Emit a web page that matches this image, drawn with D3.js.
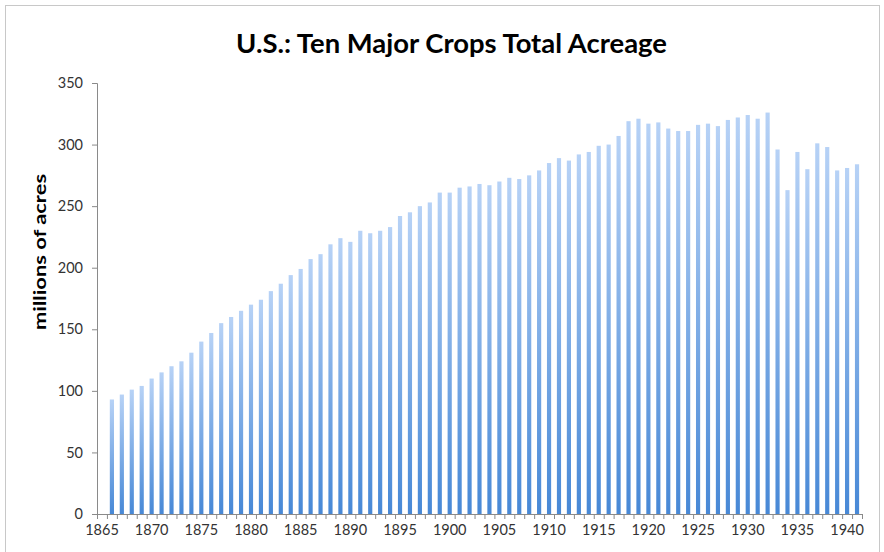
<!DOCTYPE html>
<html>
<head>
<meta charset="utf-8">
<script src="https://cdn.jsdelivr.net/npm/d3@7"></script>
<style>
  html, body { margin: 0; padding: 0; background: #fff; }
  #chart { width: 884px; height: 552px; }
</style>
</head>
<body>
<div id="chart"></div>
<script>
// categories: 1865 has no bar, data runs 1866-1941
const years = d3.range(1865, 1942);
const dataYears = d3.range(1866, 1942);
const acreage = [
  93, 97, 101, 104, 110, 115, 120, 124, 131, 140,
  147, 155, 160, 165, 170, 174, 181, 187, 194, 199,
  207, 211, 219, 224, 221, 230, 228, 230, 233, 242,
  245, 250, 253, 261, 261, 265, 266, 268, 267, 270,
  273, 272, 275, 279, 285, 289, 287, 292, 294, 299,
  300, 307, 319, 321, 317, 318, 313, 311, 311, 316,
  317, 315, 320, 322, 324, 321, 326, 296, 263, 294,
  280, 301, 298, 279, 281, 284
];
const yTicks = [0, 50, 100, 150, 200, 250, 300, 350];

function drawChart() {
  const container = d3.select("#chart");
  container.selectAll("*").remove();

  const width = 884;
  const height = 552;
  const margin = { top: 83, right: 22, bottom: 38, left: 97 };

  const svg = container.append("svg")
    .attr("width", width)
    .attr("height", height)
    .style("font-family", "Lato, 'Open Sans', sans-serif");

  const data = dataYears.map((yr, i) => ({ year: yr, value: acreage[i] }));

  // outer frame
  svg.append("rect")
    .attr("x", 5.5).attr("y", 5.5)
    .attr("width", 874).attr("height", 560)
    .attr("fill", "none")
    .attr("stroke", "#c8c8c8");

  const defs = svg.append("defs");
  const grad = defs.append("linearGradient")
    .attr("id", "barGrad")
    .attr("x1", 0).attr("y1", 0).attr("x2", 0).attr("y2", 1);
  grad.append("stop").attr("offset", "0%").attr("stop-color", "#b7d2f6");
  grad.append("stop").attr("offset", "100%").attr("stop-color", "#4788d6");

  const x = d3.scaleBand()
    .domain(years)
    .range([margin.left, width - margin.right])
    .paddingInner(0.58)
    .paddingOuter(0.29);

  // boundaries between categories, for tick marks
  const xb = d3.scaleLinear()
    .domain([1864.5, 1941.5])
    .range([margin.left, width - margin.right]);

  const y = d3.scaleLinear()
    .domain([0, 350])
    .range([height - margin.bottom, margin.top]);

  // title
  svg.append("text")
    .attr("x", 451.5)
    .attr("y", 53)
    .attr("text-anchor", "middle")
    .attr("font-size", 27)
    .attr("font-weight", "bold")
    .attr("fill", "#000")
    .attr("textLength", 431)
    .attr("lengthAdjust", "spacingAndGlyphs")
    .text("U.S.: Ten Major Crops Total Acreage");

  // bars
  svg.selectAll(".bar")
    .data(data)
    .enter()
    .append("rect")
    .attr("class", "bar")
    .attr("x", d => x(d.year))
    .attr("y", d => y(d.value))
    .attr("width", x.bandwidth())
    .attr("height", d => y(0) - y(d.value))
    .attr("fill", "url(#barGrad)");

  // y axis
  const yAxis = svg.append("g")
    .attr("transform", `translate(${margin.left},0)`)
    .call(d3.axisLeft(y).tickValues(yTicks).tickSize(5).tickPadding(9));
  yAxis.select(".domain").attr("stroke", "#8a8a8a");
  yAxis.selectAll(".tick line").attr("stroke", "#8a8a8a");
  yAxis.selectAll(".tick text")
    .attr("font-size", 14.5)
    .attr("fill", "#333")
    .style("font-family", "Lato, sans-serif");

  // x axis tick marks at category boundaries
  const xTickAxis = svg.append("g")
    .attr("transform", `translate(0,${y(0)})`)
    .call(d3.axisBottom(xb).tickValues(d3.range(1864.5, 1942, 1)).tickSize(5).tickFormat(""));
  xTickAxis.select(".domain").attr("stroke", "#8a8a8a");
  xTickAxis.selectAll(".tick line").attr("stroke", "#8a8a8a");

  // x labels every 5 years, centred on category
  const xLabels = svg.append("g")
    .attr("transform", `translate(0,${y(0)})`)
    .call(d3.axisBottom(x).tickValues(years.filter(d => d % 5 === 0)).tickSize(0).tickPadding(11));
  xLabels.select(".domain").remove();
  xLabels.selectAll(".tick text")
    .attr("font-size", 14.5)
    .attr("fill", "#333")
    .style("font-family", "Lato, sans-serif");

  // y axis title
  svg.append("text")
    .attr("transform", "translate(46,252) rotate(-90)")
    .attr("text-anchor", "middle")
    .attr("font-size", 17)
    .attr("font-weight", "bold")
    .attr("fill", "#000")
    .attr("textLength", 156)
    .attr("lengthAdjust", "spacingAndGlyphs")
    .text("millions of acres");
}

drawChart();
</script>
</body>
</html>
